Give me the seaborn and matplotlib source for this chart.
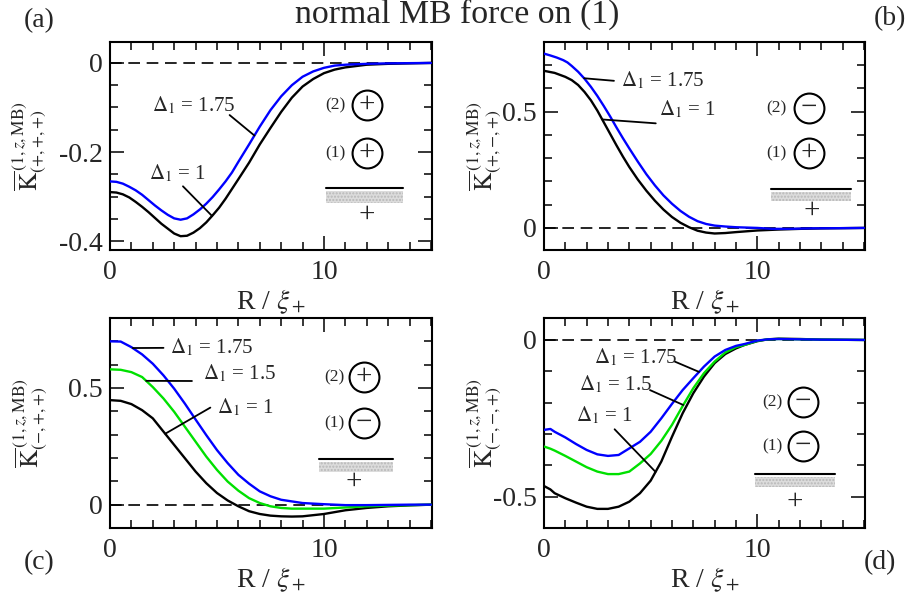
import numpy as np
import pandas as pd
import matplotlib
matplotlib.use('Agg')
import matplotlib.pyplot as plt
import seaborn as sns
from matplotlib.patches import Rectangle
from matplotlib.ticker import MultipleLocator

sns.set_theme(style='ticks')
plt.rcParams['font.family'] = ['Liberation Serif', 'DejaVu Serif']
plt.rcParams['mathtext.fontset'] = 'stix'
plt.rcParams['axes.unicode_minus'] = False

# ---------------- data ----------------
# panel (a): (+,+,+)
a_x_d1 = [0, 0.3, 0.6, 0.9, 1.2, 1.5, 1.8, 2.1, 2.4, 2.7, 3.0, 3.3, 3.6, 3.9, 4.2, 4.5, 4.8, 5.1, 5.4, 5.7,
          6.0, 6.5, 7.0, 7.5, 8.0, 8.5, 9.0, 9.5, 10.0, 10.5, 11, 12, 13, 14, 15]
a_y_d1 = [-0.290, -0.291, -0.295, -0.302, -0.312, -0.323, -0.335, -0.348, -0.361, -0.372, -0.383, -0.389,
          -0.388, -0.381, -0.371, -0.358, -0.342, -0.325, -0.305, -0.283, -0.261, -0.224, -0.183, -0.146,
          -0.110, -0.078, -0.053, -0.036, -0.023, -0.015, -0.010, -0.004, -0.002, -0.001, 0.0]
a_x_d175 = [0, 0.3, 0.6, 0.9, 1.2, 1.5, 1.8, 2.1, 2.4, 2.7, 3.0, 3.3, 3.6, 3.9, 4.2, 4.5, 4.8, 5.1, 5.4, 5.7,
            6.0, 6.5, 7.0, 7.5, 8.0, 8.5, 9.0, 9.5, 10.0, 10.5, 11, 12, 13, 15]
a_y_d175 = [-0.266, -0.267, -0.271, -0.278, -0.286, -0.296, -0.308, -0.320, -0.331, -0.341, -0.349, -0.352,
            -0.349, -0.340, -0.329, -0.316, -0.301, -0.284, -0.266, -0.246, -0.222, -0.183, -0.143, -0.106,
            -0.075, -0.050, -0.031, -0.019, -0.011, -0.006, -0.004, -0.002, -0.001, 0.0]

# panel (b): (+,-,+)
b_x_d1 = [0, 0.5, 1.0, 1.3, 1.6, 1.9, 2.2, 2.5, 2.8, 3.1, 3.4, 3.7, 4.0, 4.4, 4.8, 5.2, 5.6, 6.0, 6.4, 6.8,
          7.2, 7.6, 8.0, 8.5, 9.0, 10.0, 11.0, 12.0, 13.0, 14.0, 15]
b_y_d1 = [0.676, 0.667, 0.650, 0.636, 0.615, 0.585, 0.549, 0.505, 0.455, 0.405, 0.355, 0.307, 0.262, 0.208,
          0.160, 0.117, 0.079, 0.047, 0.022, 0.003, -0.012, -0.020, -0.024, -0.022, -0.018, -0.011, -0.007,
          -0.004, -0.002, -0.001, 0.0]
b_x_d175 = [0, 0.3, 0.6, 0.9, 1.1, 1.3, 1.6, 1.9, 2.2, 2.5, 2.8, 3.1, 3.4, 3.7, 4.0, 4.4, 4.8, 5.2, 5.6, 6.0,
            6.4, 6.8, 7.2, 7.6, 8.0, 8.5, 9.0, 10.0, 10.7, 11.5, 12.5, 14, 15]
b_y_d175 = [0.750, 0.742, 0.733, 0.722, 0.712, 0.697, 0.672, 0.642, 0.607, 0.568, 0.525, 0.480, 0.432, 0.386,
            0.342, 0.285, 0.231, 0.183, 0.140, 0.104, 0.073, 0.048, 0.029, 0.017, 0.010, 0.006, 0.003, 0.0,
            -0.004, -0.004, -0.002, -0.001, 0.0]

# panel (c): (-,+,+)
c_x = [0, 0.5, 1, 1.5, 2, 2.5, 3, 3.5, 4, 4.5, 5, 5.5, 6, 6.5, 7, 7.5, 8, 8.5, 9, 10, 11, 12, 13, 14, 15]
c_y_d1 = [0.448, 0.445, 0.431, 0.405, 0.370, 0.313, 0.256, 0.199, 0.142, 0.092, 0.050, 0.018, -0.007, -0.028,
          -0.040, -0.047, -0.050, -0.051, -0.050, -0.040, -0.024, -0.014, -0.007, -0.003, 0.0]
c_y_d15 = [0.580, 0.578, 0.568, 0.547, 0.504, 0.455, 0.398, 0.334, 0.270, 0.206, 0.149, 0.099, 0.060, 0.028,
           0.007, -0.007, -0.014, -0.017, -0.017, -0.017, -0.012, -0.007, -0.004, -0.002, 0.0]
c_y_d175 = [0.700, 0.699, 0.675, 0.644, 0.604, 0.554, 0.497, 0.433, 0.365, 0.298, 0.234, 0.178, 0.128, 0.090,
            0.057, 0.036, 0.021, 0.014, 0.007, 0.002, -0.002, -0.002, -0.001, 0.0, 0.0]

# panel (d): (-,-,+)
d_x = [0, 0.3, 0.5, 1, 1.5, 2, 2.5, 3, 3.5, 4, 4.5, 5, 5.5, 6, 6.5, 7, 7.5, 8, 8.5, 9, 9.4, 10, 10.5, 11, 12, 13, 15]
d_y_d1 = [-0.466, -0.477, -0.489, -0.505, -0.519, -0.532, -0.539, -0.539, -0.532, -0.516, -0.489, -0.449,
          -0.388, -0.309, -0.234, -0.170, -0.117, -0.074, -0.045, -0.027, -0.016, -0.004, 0.002, 0.004, 0.003,
          0.001, 0.0]
d_y_d15 = [-0.340, -0.347, -0.353, -0.370, -0.388, -0.406, -0.420, -0.428, -0.428, -0.420, -0.394, -0.364,
           -0.322, -0.271, -0.211, -0.154, -0.106, -0.069, -0.040, -0.023, -0.016, -0.003, 0.002, 0.003, 0.002,
           0.001, 0.0]
d_y_d175 = [-0.287, -0.284, -0.293, -0.311, -0.332, -0.351, -0.365, -0.370, -0.367, -0.346, -0.325, -0.293,
            -0.250, -0.204, -0.160, -0.122, -0.085, -0.053, -0.032, -0.019, -0.013, -0.002, 0.002, 0.003, 0.002,
            0.001, 0.0]

colors = {'1': 'black', '1.5': '#00e000', '1.75': '#0000ff'}

x_ticks = [0, 10]
x_tick_labels = ['0', '10']
title = 'normal MB force on (1)'
x_label = r'R / $\xi_+$'

# ---------------- figure ----------------
W, H = 908, 595
fig = plt.figure(figsize=(W / 100, H / 100), dpi=100)


def axes_px(l, r, t, b):
    return [l / W, 1 - b / H, (r - l) / W, (b - t) / H]


def make_df(series):
    rows = []
    for lab, xs, ys in series:
        for xv, yv in zip(xs, ys):
            rows.append({'R': xv, 'K': yv, 'Delta': lab})
    return pd.DataFrame(rows)


MINUS = '\u2212'
panels = [
    dict(rect=axes_px(110, 432, 42, 250), tag='(a)', tag_xy=(39, 21),
         series=[('1', a_x_d1, a_y_d1), ('1.75', a_x_d175, a_y_d175)],
         ylim=(-0.42, 0.047), yticks=[-0.4, -0.2, 0], yticklabels=['-0.4', '-0.2', '0'], yminor=0.05,
         sub='({+},{+},{+})', ylab_x=-0.19, charges=('+', '+'),
         deco=dict(cx=0.798, c2=0.697, c1=0.466, lx=0.699, w0=0.671, w1=0.910, wy=0.298,
                   rt=0.284, rb=0.227, px=0.798, py=0.168),
         notes=[('1.75', 1.95, -0.109, 5.59, -0.117, 6.75),
                ('1', 1.80, -0.262, 3.41, -0.277, 4.77)]),
    dict(rect=axes_px(544, 865, 42, 250), tag='(b)', tag_xy=(890, 19),
         series=[('1', b_x_d1, b_y_d1), ('1.75', b_x_d175, b_y_d175)],
         ylim=(-0.095, 0.8), yticks=[0, 0.5], yticklabels=['0', '0.5'], yminor=0.1,
         sub='({+},{-},{+})', ylab_x=-0.125, charges=(MINUS, '+'),
         deco=dict(cx=0.826, c2=0.683, c1=0.466, lx=0.723, w0=0.707, w1=0.956, wy=0.293,
                   rt=0.280, rb=0.236, px=0.835, py=0.188),
         notes=[('1.75', 3.59, 0.611, 3.28, 0.633, 1.88),
                ('1', 5.39, 0.483, 5.24, 0.450, 2.73)]),
    dict(rect=axes_px(110, 432, 318, 528), tag='(c)', tag_xy=(39, 563),
         series=[('1', c_x, c_y_d1), ('1.5', c_x, c_y_d15), ('1.75', c_x, c_y_d175)],
         ylim=(-0.1, 0.8), yticks=[0, 0.5], yticklabels=['0', '0.5'], yminor=0.1,
         sub='({-},{+},{+})', ylab_x=-0.186, charges=('+', MINUS),
         deco=dict(cx=0.789, c2=0.719, c1=0.500, lx=0.696, w0=0.649, w1=0.879, wy=0.329,
                   rt=0.315, rb=0.267, px=0.758, py=0.219),
         notes=[('1.75', 2.81, 0.649, 2.50, 0.672, 1.06),
                ('1.5', 4.37, 0.536, 3.83, 0.530, 1.69),
                ('1', 5.00, 0.393, 4.69, 0.416, 2.58)]),
    dict(rect=axes_px(544, 865, 318, 528), tag='(d)', tag_xy=(880, 563),
         series=[('1', d_x, d_y_d1), ('1.5', d_x, d_y_d15), ('1.75', d_x, d_y_d175)],
         ylim=(-0.6, 0.07), yticks=[-0.5, 0], yticklabels=['-0.5', '0'], yminor=0.1,
         sub='({-},{-},{+})', ylab_x=-0.125, charges=(MINUS, MINUS),
         deco=dict(cx=0.807, c2=0.600, c1=0.390, lx=0.710, w0=0.657, w1=0.907, wy=0.257,
                   rt=0.243, rb=0.195, px=0.782, py=0.124),
         notes=[('1.75', 2.34, -0.074, 6.13, -0.069, 7.27),
                ('1.5', 1.64, -0.160, 4.97, -0.160, 6.53),
                ('1', 1.48, -0.258, 3.31, -0.285, 5.23)]),
]

for p in panels:
    ax = fig.add_axes(p['rect'])
    df = make_df(p['series'])
    order = [s[0] for s in p['series']]
    ax.axhline(0, color='black', lw=1.2, ls=(0, (7, 4)), zorder=1)
    sns.lineplot(data=df, x='R', y='K', hue='Delta', hue_order=order,
                 palette=colors, estimator=None, sort=False, legend=False,
                 linewidth=1.7, ax=ax, zorder=3)
    ax.set_xlim(0, 15.05)
    ax.set_ylim(*p['ylim'])
    ax.set_xticks(x_ticks)
    ax.set_xticklabels(x_tick_labels)
    ax.xaxis.set_minor_locator(MultipleLocator(1))
    ax.set_yticks(p['yticks'])
    ax.set_yticklabels(p['yticklabels'])
    ax.yaxis.set_minor_locator(MultipleLocator(p['yminor']))
    ax.tick_params(which='both', direction='in', top=True, right=True,
                   width=1.1, labelsize=20, color='black')
    ax.tick_params(which='major', length=10)
    ax.tick_params(which='minor', length=6)
    ax.tick_params(axis='y', pad=5)
    ax.tick_params(axis='x', pad=7)
    for s in ax.spines.values():
        s.set_linewidth(1.5)
        s.set_color('black')
    ax.set_xlabel(x_label, fontsize=20, labelpad=2)
    ax.set_ylabel(r'$\overline{\mathrm{K}}^{\,(1,z,\mathrm{MB})}_{' + p['sub'] + '}$', fontsize=18)
    ax.yaxis.set_label_coords(p['ylab_x'], 0.5)

    # leader-line annotations
    xs_map = {s[0]: (s[1], s[2]) for s in p['series']}
    for lab, tx, ty, lx0, ly0, lx1 in p['notes']:
        sx, sy = xs_map[lab]
        ly1 = float(np.interp(lx1, sx, sy))
        ax.plot([lx0, lx1], [ly0, ly1], color='black', lw=1.3, zorder=4)
        ax.text(tx, ty, r'$\Delta_1$ = ' + lab, fontsize=15, ha='left', va='baseline', zorder=5)

    # configuration sketch
    d = p['deco']
    for cy, ch, num in [(d['c2'], p['charges'][0], '(2)'), (d['c1'], p['charges'][1], '(1)')]:
        ax.plot([d['cx']], [cy], marker='o', ms=21.5, mfc='none', mec='black', mew=1.5,
                transform=ax.transAxes, clip_on=False, zorder=5)
        ax.text(d['cx'], cy, ch, transform=ax.transAxes, ha='center', va='center', fontsize=21)
        ax.text(d['lx'], cy, num, transform=ax.transAxes, ha='center', va='center', fontsize=12.5)
    ax.plot([d['w0'], d['w1']], [d['wy'], d['wy']], color='black', lw=1.5, transform=ax.transAxes)
    ax.add_patch(Rectangle((d['w0'], d['rb']), d['w1'] - d['w0'], d['rt'] - d['rb'],
                           transform=ax.transAxes, facecolor='#dcdcdc', edgecolor='#b8b8b8',
                           hatch='.....', linewidth=0))
    ax.text(d['px'], d['py'], '+', transform=ax.transAxes, ha='center', va='center', fontsize=21)

    fig.text(p['tag_xy'][0] / W, 1 - p['tag_xy'][1] / H, p['tag'], fontsize=20,
             ha='center', va='center')

fig.text(457 / W, 1 - 23 / H, title, fontsize=24.3, ha='center', va='baseline')

fig.savefig('out.png', dpi=100)
